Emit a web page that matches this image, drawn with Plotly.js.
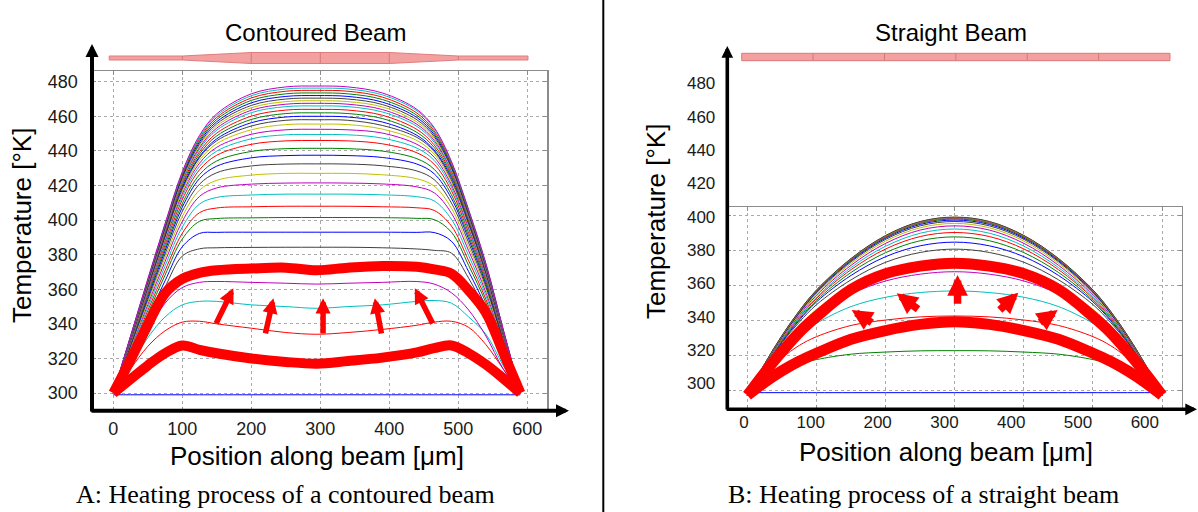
<!DOCTYPE html>
<html><head><meta charset="utf-8">
<script src="https://cdn.plot.ly/plotly-3.0.1.min.js"></script>
<style>html,body{margin:0;padding:0;background:#fff;}#chart{width:1198px;height:512px;}</style>
</head><body><div id="chart"></div>
<script>
// ---------- axis ticks ----------
const xTicks = [0, 100, 200, 300, 400, 500, 600];
const yTicksLeft = [300, 320, 340, 360, 380, 400, 420, 440, 460, 480];
const yTicksRightLabels = [300, 320, 340, 360, 380, 400, 420, 440, 460, 480];
const yTicksRightGrid = [300, 320, 340, 360, 380, 400];

// ---------- A: contoured beam (position in um, temperature in K) ----------
const xLeft = [0,25,50,75,100,125,150,200,250,295,340,390,440,465,490,515,540,565,590];
const leftInit = [299,299,299,299,299,299,299,299,299,299,299,299,299,299,299,299,299,299,299];
const left334 = [300,314,327,336,341,341.5,340,337.5,335,334,335,336.8,339.2,341,341.5,338,328,314,300];
const left349 = [300,316,332,344,351,353,353,351,350,349,350,351,353,353.5,352,344,334,316,300];
const left363 = [300,318,336,352,361,364,364.5,364,363.5,363,363.5,364,364.5,363,358,348,333,314,300];
const left384 = [300,320.7,341.3,361.3,379.2,383.4,384,384.2,384.3,384.3,384.3,384,383.3,382.5,380.9,366.4,346.9,323.2,300];
const left393 = [300,321.8,343.7,364.9,384.6,392.3,392.9,393,393,393,393,393,392.9,392.8,387.8,370.2,349.7,324.5,300];
const left401 = [300,323,345.9,368.2,389.1,399.3,400.9,401.3,401.5,401.5,401.5,401.4,401,400.3,393,373.8,352.2,325.8,300];
const left408 = [300,323.8,347.7,370.8,392.4,404.3,407,407.7,408,408,408,407.7,407.1,405.6,396.6,376.5,354.2,326.7,300];
const left415 = [300,324.8,349.5,373.5,396,409.3,413.1,414.5,415,415,415,414.6,413.5,411.1,400.5,379.5,356.3,327.8,300];
const left421 = [300,325.6,351.2,376,399.3,413.7,418.6,420.8,421.4,421.5,421.4,420.9,419.2,415.8,404,382.3,358.2,328.7,300];
const left427 = [300,326.3,352.7,378.2,402.1,417.3,423,426,427,427,427,426.2,423.9,419.7,406.9,384.6,359.9,329.5,300];
const left432 = [300,327.1,354.1,380.4,405,420.8,427.4,431.3,432.4,432.5,432.4,431.4,428.4,423.4,409.9,386.9,361.5,330.3,300];
const left437 = [300,327.7,355.4,382.3,407.5,424,431.2,436,437.3,437.5,437.3,436.2,432.4,426.8,412.6,389,363,331.1,300];
const left441 = [300,328.2,356.5,383.9,409.6,426.3,434.2,439.7,441.3,441.5,441.3,439.9,435.5,429.4,414.7,390.7,364.2,331.7,300];
const left446 = [300,328.8,357.7,385.7,411.9,429.1,437.5,443.8,445.8,446,445.8,444.1,438.9,432.3,417.1,392.6,365.6,332.3,300];
const left449 = [300,329.3,358.6,387,413.7,431.1,439.9,447,449.3,449.5,449.3,447.4,441.6,434.5,419,394.1,366.6,332.9,300];
const left452 = [300,329.7,359.4,388.2,415.2,432.9,442.1,449.6,452.2,452.5,452.2,450.3,443.8,436.4,420.5,395.4,367.5,333.3,300];
const left455 = [300,330.1,360.2,389.4,416.7,434.6,444.2,452.2,455.2,455.5,455.2,452.6,446,438.2,422.1,396.7,368.4,333.7,300];
const left458 = [300,330.4,360.9,390.4,418,436.1,445.9,454.4,457.7,458,457.7,454.7,447.8,439.7,423.3,397.7,369.2,334.1,300];
const left460 = [300,330.7,361.4,391.1,419,436.8,447,456.3,459.6,460,459.6,456.7,449,440.5,424.6,398.6,369.8,334.4,300];
const left462 = [300,331,361.9,391.9,420.1,438.2,448.7,458.2,461.6,462,461.6,458.7,450.7,442,425.7,399.4,370.4,334.7,300];
const left464 = [300,331.2,362.4,392.7,421.1,439.6,450.3,460.1,463.6,464,463.6,460.6,452.4,443.5,426.8,400.3,371,335,300];
const left466 = [300,331.5,363,393.5,422.1,441,452,462.1,465.6,466,465.6,462.5,454.2,445,427.8,401.1,371.6,335.3,300];
const left467 = [300,331.7,363.4,394.1,422.9,442,453.2,463.5,467,467.5,467,463.9,455.4,446.1,428.6,401.8,372,335.5,300];
const left469 = [300,331.9,363.8,394.7,423.6,443.1,454.5,464.9,468.5,469,468.5,465.4,456.7,447.2,429.4,402.4,372.5,335.7,300];
const left470 = [300,332.1,364.2,395.3,424.4,444.1,455.7,466.3,470,470.5,470,466.8,458,448.3,430.2,403,372.9,336,300];
const left472 = [300,332.3,364.5,395.8,425.2,445.2,456.9,467.8,471.5,472,471.5,468.2,459.3,449.4,431.1,403.7,373.4,336.2,300];
const left473 = [300,332.5,364.9,396.4,426,446.2,458.2,469.2,473,473.5,473,469.7,460.6,450.5,431.9,404.3,373.8,336.4,300];
const left475 = [300,332.7,365.3,397,426.7,447.3,459.4,470.6,474.5,475,474.5,471.1,461.9,451.6,432.7,404.9,374.3,336.6,300];
const left476 = [300,332.8,365.7,397.5,427.4,448.2,460.5,471.9,475.8,476.3,475.8,472.4,463.2,452.8,433.4,405.5,374.6,336.8,300];
const left477 = [300,333,366,398,428,449,461.5,473,477,477.5,477,473.5,464,453.5,434,406,375,337,300];
const leftThickLow = [300,308,316,323,327.5,325,323,320,318,317,318.5,320.5,323.5,326,327.5,323,316.5,308.5,300];
const leftThickHigh = [300,319.3,339.4,357.7,366,369.5,371,372,372.5,371,372.5,373.5,373,371.5,369,359.3,346.5,323.6,300];
const leftArrowTailX = [148, 220, 304, 389, 464];
const leftArrowTailY = [339.4, 333.6, 333.6, 333.6, 339.4];
const leftArrowTipX = [174, 232, 304, 379, 437];
const leftArrowTipY = [360.6, 354.8, 354.8, 354.8, 360.6];
const contourNodes = [0, 100, 200, 300, 400, 500, 600];   // beam mesh nodes (um)

// ---------- B: straight beam ----------
const xRight = [0,25,50,75,100,150,200,250,300,350,400,450,500,525,550,575,600];
const rightInit = [298.5,298.5,298.5,298.5,298.5,298.5,298.5,298.5,298.5,298.5,298.5,298.5,298.5,298.5,298.5,298.5,298.5];
const right322 = [297,304.7,310.5,314.9,317.4,320.5,321.7,322.4,322.5,322.4,321.7,320.5,317.4,314.9,310.5,304.7,297];
const right342 = [297,308.8,318.3,325.5,330.5,336.9,340,341.8,342.3,341.8,340,336.9,330.5,325.5,318.3,308.8,297];
const right356 = [297,310.7,322,331,338.1,347.7,353,355.7,356.6,355.7,353,347.7,338.1,331,322,310.7,297];
const right367 = [297,311.8,324.5,334.4,342.9,354.9,362.3,366.2,367.6,366.2,362.3,354.9,342.9,334.4,324.5,311.8,297];
const right375 = [297,312.6,325.9,336.8,346.1,359.4,368.4,373.3,375,373.3,368.4,359.4,346.1,336.8,325.9,312.6,297];
const right380 = [297,312.9,327.1,338.8,348.8,363,373,378.6,380.5,378.6,373,363,348.8,338.8,327.1,312.9,297];
const right384 = [297,313.2,327.6,339.9,350.4,365.5,376.2,382.4,384.5,382.4,376.2,365.5,350.4,339.9,327.6,313.2,297];
const right387 = [297,313.4,328,340.5,351.3,367.2,378.5,385.3,387.5,385.3,378.5,367.2,351.3,340.5,328,313.4,297];
const right390 = [297,313.6,328.5,341.4,352.4,368.8,380.6,387.7,390,387.7,380.6,368.8,352.4,341.4,328.5,313.6,297];
const right392 = [297,313.8,328.8,341.9,353.1,370,382.2,389.6,392,389.6,382.2,370,353.1,341.9,328.8,313.8,297];
const right393 = [297,314.1,329.4,342.8,354.2,371.3,383.8,391.4,393.8,391.4,383.8,371.3,354.2,342.8,329.4,314.1,297];
const right395 = [297,314.4,329.9,343.4,355,372.4,385.1,392.7,395.2,392.7,385.1,372.4,355,343.4,329.9,314.4,297];
const right396 = [297,314.6,330.3,344,355.7,373.3,386.1,393.8,396.3,393.8,386.1,373.3,355.7,344,330.3,314.6,297];
const right397 = [297,314.7,330.5,344.3,356.2,373.9,386.8,394.6,397.1,394.6,386.8,373.9,356.2,344.3,330.5,314.7,297];
const right3977 = [297,314.8,330.7,344.6,356.5,374.3,387.3,395.2,397.7,395.2,387.3,374.3,356.5,344.6,330.7,314.8,297];
const right3981 = [297,314.9,330.9,344.8,356.7,374.6,387.7,395.6,398.1,395.6,387.7,374.6,356.7,344.8,330.9,314.9,297];
const right3984 = [297,314.9,331,345,356.9,374.9,388,395.9,398.4,395.9,388,374.9,356.9,345,331,314.9,297];
const right3986 = [297,315,331,345.1,357,375,388.1,396.1,398.6,396.1,388.1,375,357,345.1,331,315,297];
const right3987 = [297,315,331.1,345.2,357.1,375.1,388.2,396.2,398.7,396.2,388.2,375.1,357.1,345.2,331.1,315,297];
const right3988 = [297,315.1,331.2,345.3,357.2,375.2,388.3,396.3,398.8,396.3,388.3,375.2,357.2,345.3,331.2,315.1,297];
const rightThickLow = [297,304.5,311,316.5,321,329,334,337.5,339,337.5,334,329,321,316.5,311,304.5,297];
const rightThickHigh = [297,310,322,333,342,357.5,366.5,370.8,372.5,370.8,366.5,357.5,342,333,322,310,297];
const rightArrowTailX = [182, 249, 304, 363, 421];
const rightArrowTailY = [338, 345.5, 348.5, 345, 338];
const rightArrowTipX = [150.8, 216, 304, 392, 449];
const rightArrowTipY = [345.7, 355.3, 365.7, 355.6, 345.7];

// ---------- styles ----------
const W = 1198, H = 512;
const px = v => v / W, py = v => 1 - v / H;
const cB = 'rgb(0,0,255)', cG = 'rgb(0,128,0)', cR = 'rgb(255,0,0)', cC = 'rgb(0,191,191)',
      cM = 'rgb(191,0,191)', cY = 'rgb(191,191,0)', cK = 'rgb(64,64,64)';
const SANS = 'Liberation Sans, Arial, sans-serif';
const SERIF = 'Liberation Serif, Times New Roman, serif';

const leftSeries = [leftInit,left334,left349,left363,left384,left393,left401,left408,left415,left421,left427,left432,
  left437,left441,left446,left449,left452,left455,left458,left460,left462,left464,left466,left467,left469,left470,
  left472,left473,left475,left476,left477];
const leftColors = [cB,cR,cC,cM,cK,cB,cG,cR,cC,cM,cY,cK,cB,cG,cR,cC,cM,cY,cK,cB,cG,cR,cC,cM,cY,cK,cB,cG,cR,cC,cM];
const rightSeries = [rightInit,right322,right342,right356,right367,right375,right380,right384,right387,right390,right392,
  right393,right395,right396,right397,right3977,right3981,right3984,right3986,right3987,right3988];
const rightColors = [cB,cG,cR,cC,cM,cY,cK,cB,cG,cR,cC,cM,cY,cK,cB,cG,cR,cC,cM,cY,cK];

function line(x, y, color, width, xa, ya) {
  return {type:'scatter', mode:'lines', x:x, y:y, xaxis:xa, yaxis:ya,
    line:{color:color, width:width, shape:'spline', smoothing:1}, hoverinfo:'skip', showlegend:false};
}
const traces = [];
leftSeries.forEach((s, i) => traces.push(line(xLeft, s, leftColors[i], 1, 'x', 'y')));
traces.push(line(xLeft, leftThickLow, cR, 10, 'x', 'y'));
traces.push(line(xLeft, leftThickHigh, cR, 10, 'x', 'y'));
rightSeries.forEach((s, i) => traces.push(line(xRight, s, rightColors[i], 1, 'x2', 'y2')));
traces.push(line(xRight, rightThickLow, cR, 11, 'x2', 'y2'));
traces.push(line(xRight, rightThickHigh, cR, 11, 'x2', 'y2'));
traces.push({type:'scatter', mode:'lines', x:[null], y:[null], xaxis:'x3', yaxis:'y3', hoverinfo:'skip', showlegend:false});

const gridStyle = {showgrid:true, gridcolor:'rgb(170,170,170)', griddash:'dot', gridwidth:1,
  showline:true, linecolor:'rgb(140,140,140)', linewidth:1.5, mirror:'ticks', ticks:'inside', ticklen:4,
  tickcolor:'rgb(140,140,140)', zeroline:false, fixedrange:true};

const annotations = [];
function txt(t, x, y, size, family, angle) {
  annotations.push({text:t, x:px(x), y:py(y), xref:'paper', yref:'paper', showarrow:false,
    xanchor:'center', yanchor:'middle', textangle:angle || 0, font:{family:family, size:size, color:'#000'}});
}
txt('Contoured Beam', 315, 32, 24, SANS);
txt('Straight Beam', 951, 32, 24, SANS);
txt('Position along beam [\u03bcm]', 317, 456, 26, SANS);
txt('Position along beam [\u03bcm]', 946, 452, 26, SANS);
txt('Temperature [\u00b0K]', 22, 226, 26, SANS, -90);
txt('Temperature [\u00b0K]', 656, 222, 26, SANS, -90);
txt('A: Heating process of a contoured beam', 285, 494, 26, SERIF);
txt('B: Heating process of a straight beam', 923, 494, 26, SERIF);

function axisArrow(tipX, tipY, tailX, tailY, w) {
  annotations.push({text:'', x:px(tipX), y:py(tipY), xref:'paper', yref:'paper', showarrow:true,
    ax:tailX - tipX, ay:tailY - tipY, arrowhead:2, arrowsize:0.65, arrowwidth:w, arrowcolor:'#000', standoff:0});
}
axisArrow(92, 44, 92, 413, 4);
axisArrow(569, 410.7, 90, 410.7, 4);
axisArrow(727.3, 46, 727.3, 411, 3.6);
axisArrow(1197, 409.3, 725.5, 409.3, 3.6);

function dataArrows(tx, ty, hx, hy, xa, ya, w, s) {
  for (let i = 0; i < tx.length; i++) {
    annotations.push({text:'', x:hx[i], y:hy[i], xref:xa, yref:ya, axref:xa, ayref:ya, ax:tx[i], ay:ty[i],
      showarrow:true, arrowhead:2, arrowsize:s, arrowwidth:w, arrowcolor:cR, standoff:0});
  }
}
dataArrows(leftArrowTailX, leftArrowTailY, leftArrowTipX, leftArrowTipY, 'x', 'y', 5.5, 0.55);
dataArrows(rightArrowTailX, rightArrowTailY, rightArrowTipX, rightArrowTipY, 'x2', 'y2', 7.5, 0.55);

// ---------- beam sketches ----------
const shapes = [];
const bc = py(58), bt = 2 / H, bT = 5.5 / H;
const n = contourNodes;
const beamStart = -6, beamEnd = 601;
shapes.push({type:'path', xref:'x', yref:'paper', layer:'above',
  path:`M${beamStart},${bc+bt} L${n[1]},${bc+bt} L${n[2]},${bc+bT} L${n[4]},${bc+bT} L${n[5]},${bc+bt} L${beamEnd},${bc+bt} ` +
       `L${beamEnd},${bc-bt} L${n[5]},${bc-bt} L${n[4]},${bc-bT} L${n[2]},${bc-bT} L${n[1]},${bc-bt} L${beamStart},${bc-bt} Z`,
  fillcolor:'rgb(243,160,160)', line:{color:'rgb(225,125,125)', width:1}});
for (let i = 1; i < n.length - 1; i++) {
  const half = (i >= 2 && i <= 4) ? bT : bt;
  shapes.push({type:'line', xref:'x', yref:'paper', x0:n[i], x1:n[i], y0:bc-half, y1:bc+half,
    line:{color:'rgb(215,120,120)', width:1}});
}
const rb0 = 741.7, rb1 = 1170;
shapes.push({type:'rect', xref:'paper', yref:'paper', x0:px(rb0), x1:px(rb1), y0:py(60.7), y1:py(53.3),
  fillcolor:'rgb(243,160,160)', line:{color:'rgb(222,120,120)', width:1}});
for (let i = 1; i < 6; i++) {
  const xx = rb0 + (rb1 - rb0) * i / 6;
  shapes.push({type:'line', xref:'paper', yref:'paper', x0:px(xx), x1:px(xx), y0:py(60.7), y1:py(53.3),
    line:{color:'rgb(215,120,120)', width:1}});
}
shapes.push({type:'line', xref:'paper', yref:'paper', x0:px(603.3), x1:px(603.3), y0:0, y1:1,
  line:{color:'#000', width:2}});

const layout = {
  width:W, height:H, margin:{l:0, r:0, t:0, b:0}, paper_bgcolor:'#fff', plot_bgcolor:'rgba(0,0,0,0)', showlegend:false,
  xaxis: Object.assign({}, gridStyle, {domain:[px(92), px(547.3)], range:[-30.9, 629], anchor:'y',
    tickmode:'array', tickvals:xTicks, ticktext:xTicks.map(String), ticklabelstandoff:1,
    tickfont:{family:SANS, size:18, color:'#1a1a1a'}}),
  yaxis: Object.assign({}, gridStyle, {domain:[py(410.7), py(71)], range:[289.8, 486.2], anchor:'x',
    tickmode:'array', tickvals:yTicksLeft, ticktext:yTicksLeft.map(String), ticklabelstandoff:9,
    tickfont:{family:SANS, size:18, color:'#1a1a1a'}}),
  xaxis2: Object.assign({}, gridStyle, {domain:[px(727.3), px(1181.7)], range:[-29.2, 628.4], anchor:'y2',
    tickmode:'array', tickvals:xTicks, showticklabels:false}),
  yaxis2: Object.assign({}, gridStyle, {domain:[py(409.3), py(207.3)], range:[289, 404.4], anchor:'x2',
    tickmode:'array', tickvals:yTicksRightGrid, showticklabels:false}),
  xaxis3: {domain:[px(727.3), px(1181.7)], range:[-25, 655.2], anchor:'y3', showgrid:false, showline:false,
    zeroline:false, ticks:'', tickmode:'array', tickvals:xTicks, ticktext:xTicks.map(String), ticklabelstandoff:1,
    tickfont:{family:SANS, size:17, color:'#1a1a1a'}, fixedrange:true},
  yaxis3: {domain:[py(409.3), py(60)], range:[284.4, 494], anchor:'x3', showgrid:false, showline:false,
    zeroline:false, ticks:'', tickmode:'array', tickvals:yTicksRightLabels, ticktext:yTicksRightLabels.map(String),
    ticklabelstandoff:11, tickfont:{family:SANS, size:17, color:'#1a1a1a'}, fixedrange:true},
  annotations: annotations, shapes: shapes
};
Plotly.newPlot('chart', traces, layout, {staticPlot:true, displayModeBar:false});
</script></body></html>
